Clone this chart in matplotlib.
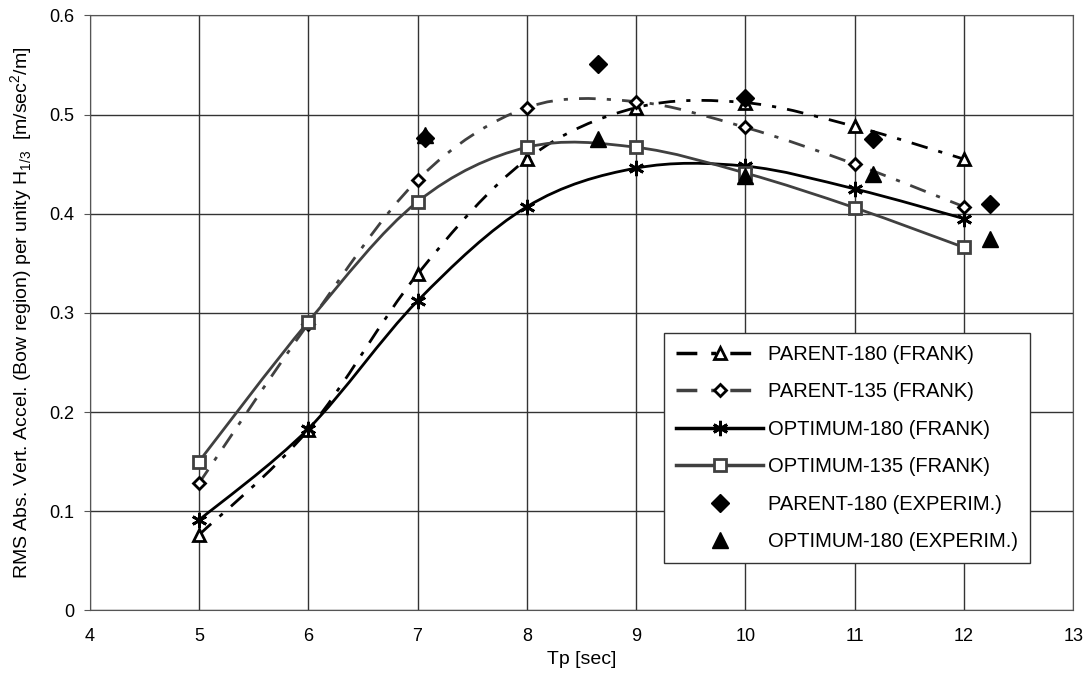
import numpy as np
import matplotlib.pyplot as plt
from matplotlib.path import Path
from matplotlib.patches import PathPatch
from matplotlib.lines import Line2D

plt.rcParams['font.family'] = ['Liberation Sans', 'DejaVu Sans']

# data
tp = [5, 6, 7, 8, 9, 10, 11, 12]
parent_180 = [0.076, 0.182, 0.339, 0.455, 0.507, 0.512, 0.488, 0.455]
parent_135 = [0.128, 0.289, 0.434, 0.507, 0.513, 0.487, 0.450, 0.407]
optimum_180 = [0.091, 0.183, 0.312, 0.407, 0.446, 0.448, 0.425, 0.395]
optimum_135 = [0.150, 0.291, 0.412, 0.467, 0.467, 0.441, 0.406, 0.366]

exp_tp = [7.07, 8.65, 10.0, 11.17, 12.24]
exp_parent_180 = [0.476, 0.551, 0.517, 0.475, 0.410]
exp_optimum_180 = [0.479, 0.475, 0.438, 0.440, 0.375]

labels = ["PARENT-180 (FRANK)", "PARENT-135 (FRANK)", "OPTIMUM-180 (FRANK)",
          "OPTIMUM-135 (FRANK)", "PARENT-180 (EXPERIM.)", "OPTIMUM-180 (EXPERIM.)"]

dash = (0, (6, 4, 1.5, 4))
gray = '#404040'


def smooth_patch(x, y, **kw):
    # bezier curve through the points (like a spreadsheet "smoothed line")
    x = np.asarray(x, float)
    y = np.asarray(y, float)
    n = len(x)
    verts = [(x[0], y[0])]
    codes = [Path.MOVETO]
    for i in range(n - 1):
        i0 = max(i - 1, 0)
        i3 = min(i + 2, n - 1)
        c1 = (x[i] + (x[i + 1] - x[i0]) / 6, y[i] + (y[i + 1] - y[i0]) / 6)
        c2 = (x[i + 1] - (x[i3] - x[i]) / 6, y[i + 1] - (y[i3] - y[i]) / 6)
        verts += [c1, c2, (x[i + 1], y[i + 1])]
        codes += [Path.CURVE4] * 3
    return PathPatch(Path(verts, codes), fill=False, **kw)


fig, ax = plt.subplots(figsize=(10.92, 7), dpi=100)
fig.subplots_adjust(left=0.082, right=0.983, top=0.978, bottom=0.128)

series = [
    (parent_180, 'k', dash, '^', 'white', 'k'),
    (parent_135, gray, dash, 'D', 'white', 'k'),
    (optimum_180, 'k', '-', (6, 2, 0), 'k', 'k'),
    (optimum_135, gray, '-', 's', 'white', gray),
]
msize = {'^': 9, 'D': 6.5, (6, 2, 0): 11, 's': 8}

handles = []
for vals, col, ls, mk, mfc, mec in series:
    ax.add_patch(smooth_patch(tp, vals, edgecolor=col, linestyle=ls, lw=2, zorder=3))
    ax.plot(tp, vals, linestyle='none', marker=mk, ms=msize[mk], mfc=mfc,
            mec=mec, mew=2, zorder=4)
    handles.append(Line2D([], [], color=col, linestyle=ls, lw=2.5, marker=mk,
                          ms=msize[mk], mfc=mfc, mec=mec, mew=2))

ax.plot(exp_tp, exp_parent_180, linestyle='none', marker='D', ms=9,
        color='k', zorder=5)
ax.plot(exp_tp, exp_optimum_180, linestyle='none', marker='^', ms=11,
        color='k', zorder=5)
handles.append(Line2D([], [], linestyle='none', marker='D', ms=9, color='k'))
handles.append(Line2D([], [], linestyle='none', marker='^', ms=11, color='k'))

ax.set_xlim(4, 13)
ax.set_ylim(0, 0.6)
ax.set_xticks(range(4, 14))
ax.set_yticks([0, 0.1, 0.2, 0.3, 0.4, 0.5, 0.6])
ax.set_yticklabels(['0', '0.1', '0.2', '0.3', '0.4', '0.5', '0.6'])
ax.grid(True, color='#333333', lw=1)
ax.set_axisbelow(True)
for s in ax.spines.values():
    s.set_color('#555555')
ax.tick_params(labelsize=13, length=4, color='#555555', pad=7)
ax.tick_params(axis='x', length=0, pad=13)

ax.set_xlabel("Tp [sec]", fontsize=14, labelpad=4)
ax.set_ylabel(r"RMS Abs. Vert. Accel. (Bow region) per unity H$_{\mathregular{1/3}}$  "
              r"[m/sec$^{\mathregular{2}}$/m]", fontsize=14, labelpad=10)

leg = ax.legend(handles, labels, loc='lower right', bbox_to_anchor=(0.956, 0.079),
                borderaxespad=0, fontsize=14.5, handlelength=4.3, handletextpad=0.25,
                labelspacing=0.92, fancybox=False, framealpha=1, edgecolor='#333333',
                borderpad=0.6)
leg.get_frame().set_linewidth(1)

fig.savefig("out.png", dpi=100)
